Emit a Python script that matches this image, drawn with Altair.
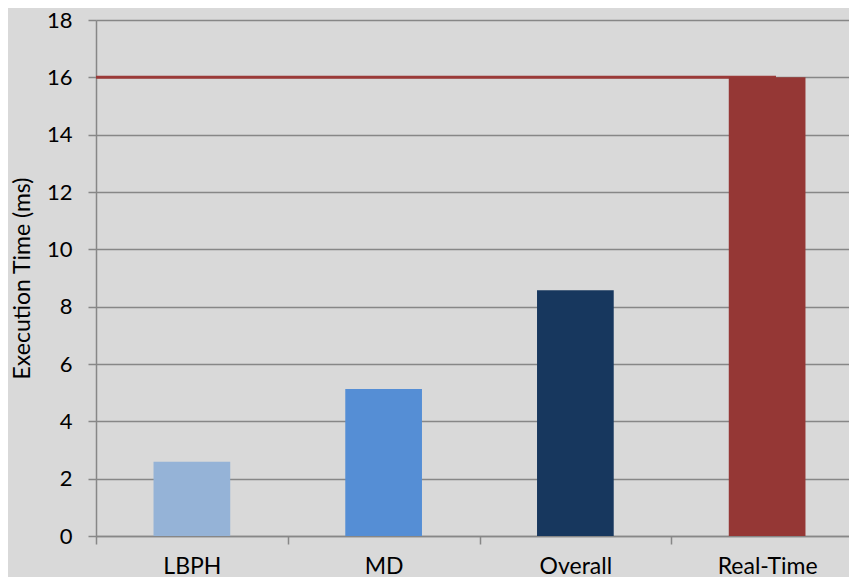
import altair as alt
import pandas as pd

categories = ["LBPH", "MD", "Overall", "Real-Time"]
values = [2.59, 5.13, 8.57, 16.0]
colors = ["#95B3D7", "#558ED5", "#17375E", "#953735"]
threshold = [16.0]
y_ticks = [0, 2, 4, 6, 8, 10, 12, 14, 16, 18]

df = pd.DataFrame({"cat": categories, "val": values, "color": colors})
line_df = pd.DataFrame({"y": threshold})

FONT = "Lato"
GRID = "#878787"

xscale = alt.Scale(domain=categories, range=[0, 767], paddingInner=0, paddingOuter=0)

bars = alt.Chart(df).mark_bar(width=alt.RelativeBandSize(0.4)).encode(
    x=alt.X("cat:N", scale=xscale, sort=categories, title=None,
            axis=alt.Axis(labelAngle=0, tickBand="extent", tickSize=8, tickColor=GRID,
                          tickWidth=1.5, domainColor=GRID, domainWidth=1.5,
                          labelFont=FONT, labelFontSize=23, labelColor="black",
                          labelPadding=11, grid=False)),
    y=alt.Y("val:Q", scale=alt.Scale(domain=[0, 18], nice=False),
            title="Execution Time (ms)",
            axis=alt.Axis(values=y_ticks, tickSize=8, tickColor=GRID, tickWidth=1.5,
                          domainColor=GRID, domainWidth=1.5, gridColor=GRID, gridWidth=1.5,
                          labelFont=FONT, labelFontSize=22, labelColor="black",
                          labelPadding=16, titleFont=FONT, titleFontSize=23,
                          titleFontWeight="normal", titleColor="black", titlePadding=12)),
    color=alt.Color("color:N", scale=None),
)

rule = alt.Chart(line_df).mark_rule(color="#9B3A38", strokeWidth=3).encode(
    y=alt.Y("y:Q"),
    x=alt.value(0),
    x2=alt.value(680),
)

chart = alt.layer(rule, bars).properties(
    width=753, height=516,
    background="#D9D9D9",
    padding={"left": 88, "top": 12, "right": 0, "bottom": 41},
    autosize=alt.AutoSizeParams(type="none"),
).configure_view(stroke=None)

chart.save("out.html", embed_options={"renderer": "svg", "actions": False})
